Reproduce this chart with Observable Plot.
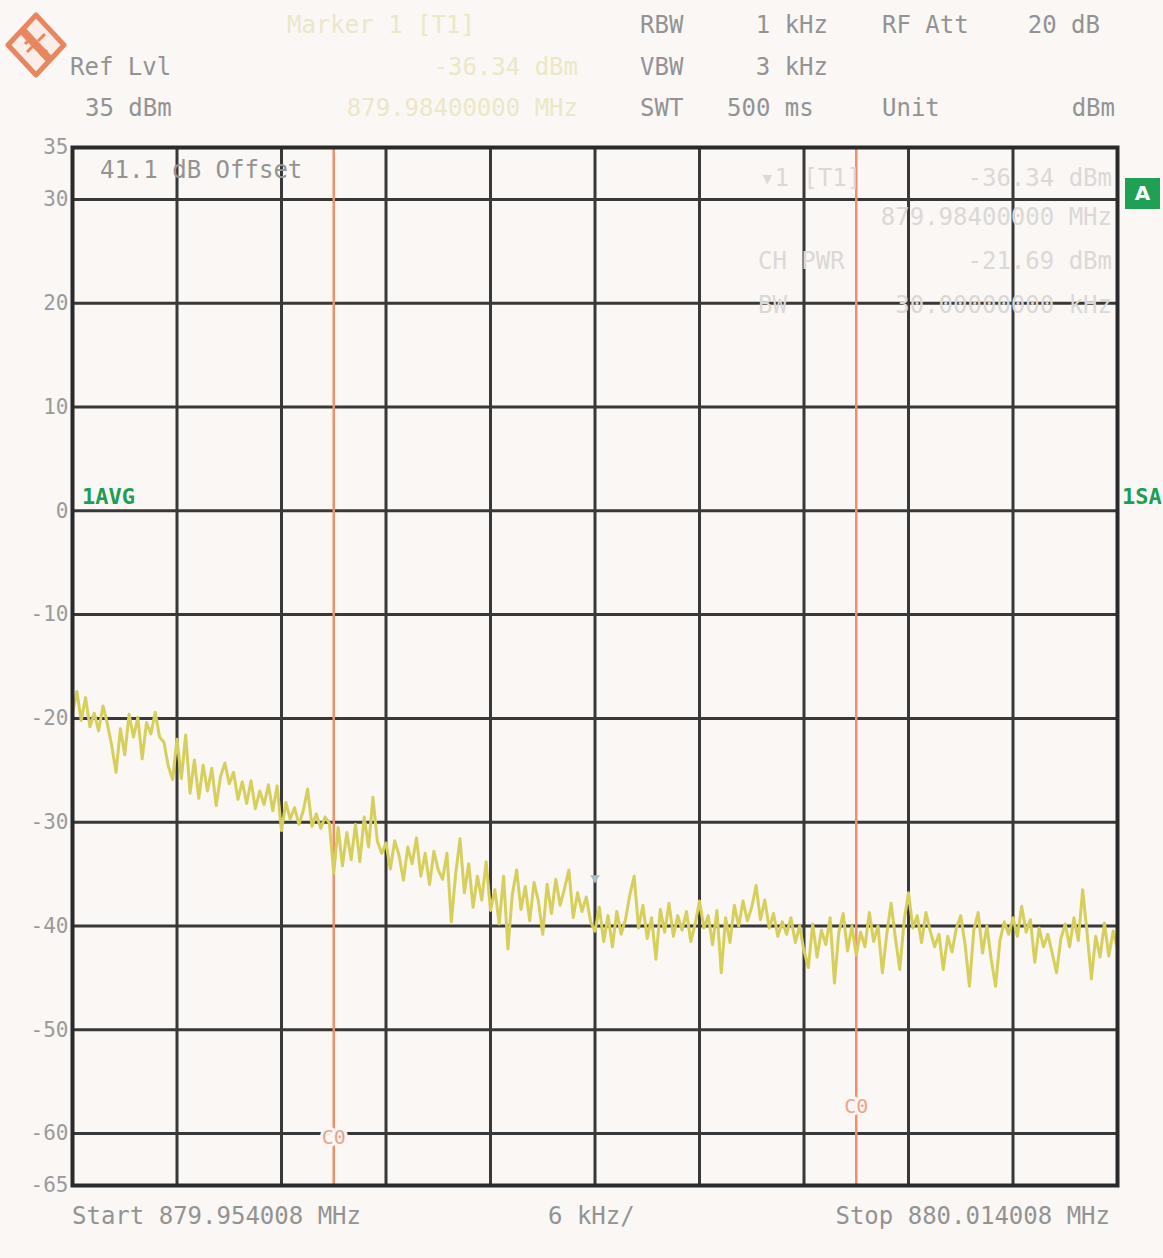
<!DOCTYPE html>
<html>
<head>
<meta charset="utf-8">
<script src="https://cdn.jsdelivr.net/npm/d3@7"></script>
<script src="https://cdn.jsdelivr.net/npm/@observablehq/plot@0.6"></script>
<style>
  html, body { margin: 0; padding: 0; background: #faf7f5; }
  #wrap { position: relative; width: 1163px; height: 1258px; overflow: hidden; }
  .t { position: absolute; font-family: "DejaVu Sans Mono", monospace; font-size: 24px; line-height: 24px; color: #939393; white-space: pre; }
  .faint { color: #ece7c6; }
  .faintg { color: #dcd8d5; }
  .green { color: #1f9d55; font-weight: bold; font-size: 22px; }
  .r { text-align: right; }
  #abox { position: absolute; left: 1125px; top: 178px; width: 35px; height: 31px; background: #20a054; color: #fff; font: bold 20px "DejaVu Sans", sans-serif; text-align: center; line-height: 31px; }
  #logo { position: absolute; left: 5px; top: 12px; }
</style>
</head>
<body>
<div id="wrap"></div>
<script>
// ---- data ----
const startMHz = 879.954008;
const stopMHz = 880.014008;
const spanKHz = 60;            // 6 kHz/div x 10
const stepKHz = 0.25;          // sweep point spacing
const yTicks = [35, 30, 20, 10, 0, -10, -20, -30, -40, -50, -60, -65];
const yGrid = [30, 20, 10, 0, -10, -20, -30, -40, -50, -60];
const xGrid = [6, 12, 18, 24, 30, 36, 42, 48, 54];
const channelEdgesKHz = [15, 45];
const channelLabelDb = [-60.4, -57.4];
const markerKHz = [30];
const markerDb = [-36.34];
const traceDb = [
  -19.5, -17.4, -20.2, -18.0, -20.8, -19.5, -21.2, -18.8,
  -20.5, -22.6, -25.2, -21.0, -23.5,
  -19.6, -21.8, -19.9, -23.9, -20.4, -21.5, -19.4, -21.8,
  -22.3, -24.6, -25.9, -22.0,
  -25.8, -21.6, -27.2, -24.0, -27.7,
  -24.5, -27.0, -24.8, -28.4, -25.6,
  -24.3, -26.3, -25.2, -27.8, -26.1, -28.2,
  -26.0, -28.7, -27.0, -28.3, -26.4, -28.9,
  -26.5, -30.8, -28.1, -29.7, -28.6,
  -30.2, -28.9, -26.8, -30.4, -29.2, -30.6, -29.5, -30.1,
  -34.9, -30.5, -34.2, -31.0, -33.6,
  -30.2, -33.8, -29.5, -32.4, -27.6, -31.8, -33.0,
  -32.0, -34.5, -31.8, -33.2, -35.6, -32.4, -34.0, -31.5, -35.2, -33.0, -36.0, -32.8, -34.6,
  -35.5, -33.0, -39.6, -35.0, -31.6, -36.8, -34.0, -38.2, -35.2, -37.5, -33.8, -38.5,
  -36.5, -39.8, -35.2, -42.2, -37.0, -34.6, -38.4, -36.2, -39.5, -35.8, -37.6, -40.8,
  -36.0, -38.8, -35.5, -38.0, -36.4, -34.6, -39.2, -36.8, -38.6, -37.2, -39.6,
  -40.5, -38.2, -41.5, -39.0, -42.0, -38.6, -40.8, -39.4, -37.0, -35.2, -40.2, -38.0,
  -41.2, -39.2, -43.2, -38.4, -40.6, -37.8, -41.0, -39.0, -40.4, -38.6, -41.5, -39.8, -37.6,
  -40.2, -39.0, -41.8, -38.5, -44.5, -39.2, -41.6, -38.0, -40.0, -37.6, -39.5, -38.2,
  -36.1, -39.4, -37.5, -40.2, -38.8, -41.0, -39.6, -40.8, -39.2, -41.6, -40.0, -42.4,
  -44.0, -39.8, -43.0, -40.4, -41.8, -39.2, -45.5, -40.6, -38.8, -42.4, -40.0, -42.8,
  -40.6, -42.0, -38.7, -41.5, -40.0, -44.5, -40.8, -37.8, -41.2, -44.2,
  -39.5, -36.8, -40.2, -39.0, -41.6, -38.7, -40.5, -42.0, -40.8, -44.2,
  -41.0, -42.5, -40.2, -39.0, -41.8, -45.8, -40.4, -38.7, -42.6, -40.0,
  -43.2, -45.8, -41.4, -39.6, -40.8, -39.2, -41.0, -38.1, -40.6, -39.4,
  -43.5, -40.2, -42.0, -40.8, -42.6, -44.5, -41.2, -39.8, -42.0, -39.2,
  -41.4, -36.5, -40.6, -45.1, -41.0, -43.0, -39.7, -42.9, -40.5, -42.2
];

const trace = traceDb.map((db, i) => ({f: i * stepKHz, db}));
const channel = channelEdgesKHz.map((f, i) => ({f, db: channelLabelDb[i]}));
const marker = markerKHz.map((f, i) => ({f, db: markerDb[i]}));

const plot = Plot.plot({
  width: 1163,
  height: 1258,
  marginLeft: 72,
  marginRight: 46,
  marginTop: 147,
  marginBottom: 73,
  style: {background: "transparent", fontFamily: "DejaVu Sans Mono, monospace", overflow: "visible"},
  x: {domain: [0, spanKHz], axis: null},
  y: {domain: [-65, 35], label: null},
  marks: [
    Plot.ruleY(yGrid, {stroke: "#383838", strokeWidth: 3}),
    Plot.ruleX(xGrid, {stroke: "#383838", strokeWidth: 3}),
    Plot.ruleX(channelEdgesKHz, {stroke: "#ef8f6c", strokeWidth: 2.5}),
    Plot.line(trace, {x: "f", y: "db", stroke: "#d6cf5c", strokeWidth: 3, strokeLinejoin: "round"}),
    Plot.dot(marker, {x: "f", y: "db", dy: -10, symbol: "triangle", r: 3.5, fill: "#a9bcc4", stroke: "none", rotate: 180}),
    Plot.text(channel, {x: "f", y: "db", text: () => "C0", fill: "#eba48a", stroke: "#faf7f5", strokeWidth: 6, fontSize: 20, paintOrder: "stroke"}),
    Plot.frame({stroke: "#2a2a2a", strokeWidth: 4}),
    Plot.axisY(yTicks, {label: null, tickSize: 0, tickPadding: 4, fontSize: 21, fill: "#9a9a9a", tickFormat: d => String(d)})
  ]
});

const wrap = document.getElementById("wrap");
wrap.appendChild(plot);

// ---- header / annotation texts ----
const leftTexts = [
  ["Ref Lvl", 70, 67, ""], ["35 dBm", 85, 108, ""],
  ["Marker 1 [T1]", 287, 25, "faint"],
  ["RBW", 640, 25, ""], ["VBW", 640, 67, ""], ["SWT", 640, 108, ""],
  ["500 ms", 727, 108, ""], ["RF Att", 882, 25, ""], ["Unit", 882, 108, ""],
  ["41.1 dB Offset", 100, 170, ""],
  ["\u25BE1 [T1]", 760, 178, "faintg"], ["CH PWR", 758, 261, "faintg"], ["BW", 758, 305, "faintg"],
  ["Start 879.954008 MHz", 72, 1216, ""], ["6 kHz/", 548, 1216, ""],
  ["1AVG", 82, 497, "green"], ["1SA", 1122, 497, "green"]
];
const rightTexts = [
  ["-36.34 dBm", 578, 67, "faint"], ["879.98400000 MHz", 578, 108, "faint"],
  ["1 kHz", 828, 25, ""], ["3 kHz", 828, 67, ""], ["20 dB", 1100, 25, ""], ["dBm", 1115, 108, ""],
  ["-36.34 dBm", 1112, 178, "faintg"], ["879.98400000 MHz", 1112, 217, "faintg"],
  ["-21.69 dBm", 1112, 261, "faintg"], ["30.00000000 kHz", 1112, 305, "faintg"],
  ["Stop 880.014008 MHz", 1110, 1216, ""]
];
for (const [s, x, y, c] of leftTexts) {
  const d = document.createElement("div");
  d.className = "t " + c;
  d.style.left = x + "px"; d.style.top = (y - 12) + "px";
  d.textContent = s;
  wrap.appendChild(d);
}
for (const [s, x, y, c] of rightTexts) {
  const d = document.createElement("div");
  d.className = "t r " + c;
  d.style.right = (1163 - x) + "px"; d.style.top = (y - 12) + "px";
  d.textContent = s;
  wrap.appendChild(d);
}
const a = document.createElement("div");
a.id = "abox"; a.textContent = "A";
wrap.appendChild(a);

// R&S style logo
const logo = document.createElement("div");
logo.id = "logo";
logo.innerHTML = `<svg width="62" height="66" viewBox="0 0 62 66">
  <polygon points="31,3 59,33 31,63 3,33" fill="#fbeee8" stroke="#e88660" stroke-width="5" stroke-linejoin="round"/>
  <line x1="17" y1="18" x2="45" y2="48" stroke="#e88660" stroke-width="8"/>
  <line x1="22" y1="40" x2="29" y2="33" stroke="#e88660" stroke-width="3"/>
  <line x1="33" y1="29" x2="40" y2="22" stroke="#e88660" stroke-width="3"/>
  <line x1="20" y1="32" x2="26" y2="26" stroke="#e88660" stroke-width="3"/>
  <line x1="36" y1="44" x2="42" y2="38" stroke="#e88660" stroke-width="3"/>
</svg>`;
wrap.appendChild(logo);
</script>
</body>
</html>
